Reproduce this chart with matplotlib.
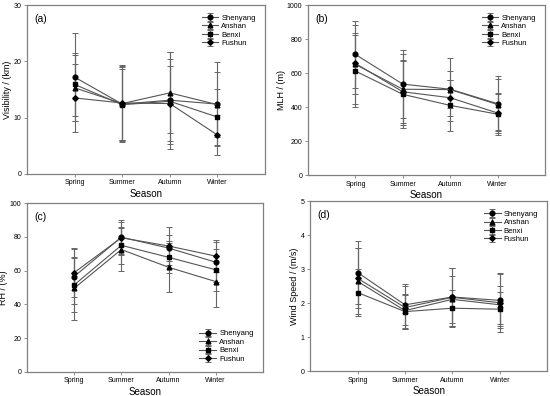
import matplotlib.pyplot as plt
import numpy as np

plt.rcParams['font.family'] = ['Liberation Sans', 'DejaVu Sans']

seasons = ['Spring', 'Summer', 'Autumn', 'Winter']
cities = ['Shenyang', 'Anshan', 'Benxi', 'Fushun']
markers = ['o', '^', 's', 'D']
msizes = [3.4, 3.4, 3.2, 2.8]

# (a) visibility (km)
vis_mean = {'Shenyang': [17.2, 12.4, 13.1, 12.4],
            'Anshan':   [15.3, 12.5, 14.4, 12.3],
            'Benxi':    [15.9, 12.3, 12.9, 10.1],
            'Fushun':   [13.5, 12.6, 12.5, 6.9]}
vis_err = {'Shenyang': [7.8, 6.8, 8.6, 7.5],
           'Anshan':   [5.9, 6.5, 7.2, 5.8],
           'Benxi':    [5.6, 6.3, 7.6, 4.9],
           'Fushun':   [6.1, 6.8, 6.7, 3.5]}

# (b) MLH (m)
mlh_mean = {'Shenyang': [710, 535, 505, 420],
            'Anshan':   [651, 505, 503, 415],
            'Benxi':    [612, 475, 410, 358],
            'Fushun':   [657, 490, 455, 365]}
mlh_err = {'Shenyang': [195, 200, 185, 160],
           'Anshan':   [230, 210, 110, 150],
           'Benxi':    [210, 200, 150, 120],
           'Fushun':   [180, 183, 105, 120]}

# (c) RH (%)
rh_mean = {'Shenyang': [56.5, 79.8, 73.4, 65.0],
           'Anshan':   [49.5, 72.5, 62.0, 53.5],
           'Benxi':    [51.5, 75.0, 67.9, 60.5],
           'Fushun':   [58.8, 79.5, 74.6, 68.6]}
rh_err = {'Shenyang': [16.5, 10.3, 7.5, 12.0],
          'Anshan':   [18.5, 12.5, 14.5, 15.0],
          'Benxi':    [16.0, 11.0, 9.4, 12.5],
          'Fushun':   [14.5, 9.5, 11.0, 9.5]}

# (d) wind speed (m/s)
ws_mean = {'Shenyang': [2.90, 1.95, 2.18, 2.08],
           'Anshan':   [2.64, 1.78, 2.11, 1.95],
           'Benxi':    [2.31, 1.75, 1.85, 1.82],
           'Fushun':   [2.73, 1.87, 2.17, 2.01]}
ws_err = {'Shenyang': [0.93, 0.60, 0.85, 0.80],
          'Anshan':   [0.97, 0.50, 0.70, 0.56],
          'Benxi':    [0.70, 0.50, 0.54, 0.50],
          'Fushun':   [0.88, 0.63, 0.85, 0.85]}

panels = [
    ('(a)', vis_mean, vis_err, 'Visibility / (km)', (0, 30), [0, 10, 20, 30], 'upper right'),
    ('(b)', mlh_mean, mlh_err, 'MLH / (m)', (0, 1000), [0, 200, 400, 600, 800, 1000], 'upper right'),
    ('(c)', rh_mean, rh_err, 'RH / (%)', (0, 100), [0, 20, 40, 60, 80, 100], 'lower right'),
    ('(d)', ws_mean, ws_err, 'Wind Speed / (m/s)', (0, 5), [0, 1, 2, 3, 4, 5], 'upper right'),
]
positions = [
    [0.049, 0.561, 0.433, 0.426],
    [0.560, 0.558, 0.431, 0.429],
    [0.049, 0.061, 0.429, 0.426],
    [0.564, 0.063, 0.431, 0.429],
]

fig = plt.figure(figsize=(5.5, 3.96), dpi=100)
x = np.arange(len(seasons))
spine_col = '#808080'
line_col = '#555555'

for (lab, means, errs, ylab, ylim, yticks, legloc), pos in zip(panels, positions):
    ax = fig.add_axes(pos)
    for c, m, s in zip(cities, markers, msizes):
        ax.errorbar(x, means[c], yerr=errs[c], color=line_col, ecolor='#666666',
                    elinewidth=0.8, capsize=2, capthick=0.7, lw=0.8,
                    marker=m, ms=s, mfc='black', mec='black', label=c)
    ax.set_xlim(-1, 4)
    ax.set_ylim(*ylim)
    ax.set_yticks(yticks)
    ax.set_xticks(x)
    ax.set_xticklabels(seasons)
    ax.tick_params(labelsize=5, length=2.5, width=0.6, color=spine_col, pad=1.5)
    for sp in ax.spines.values():
        sp.set_color(spine_col)
        sp.set_linewidth(0.9)
    ax.set_ylabel(ylab, fontsize=6.5, labelpad=1)
    ax.set_xlabel('Season', fontsize=7, labelpad=2)
    ax.text(0.03, 0.95, lab, transform=ax.transAxes, fontsize=7.5,
            ha='left', va='top')
    ax.legend(loc=legloc, frameon=False, fontsize=5.5, handlelength=2.2,
              labelspacing=0.15, borderaxespad=0.8, handletextpad=0.4)

fig.savefig('out.png', dpi=100)
